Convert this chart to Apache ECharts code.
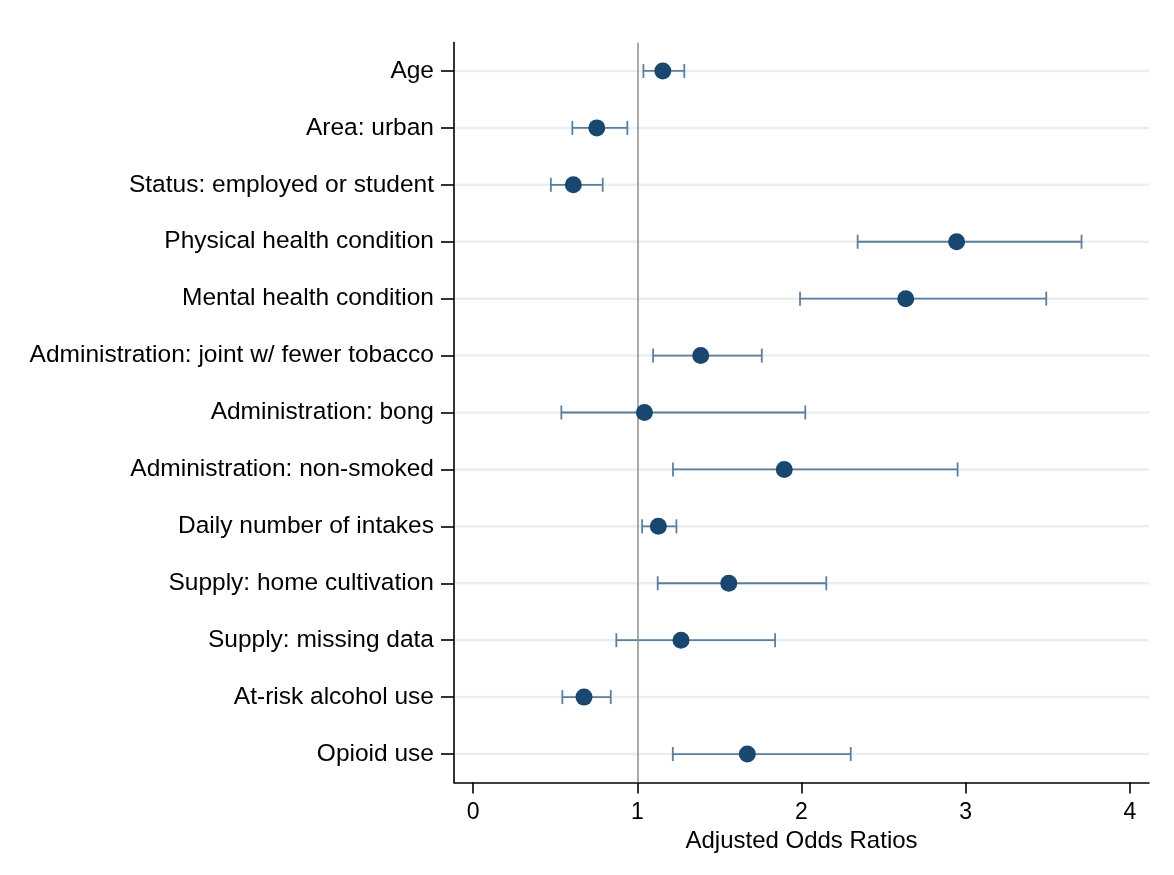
<!DOCTYPE html>
<html>
<head>
<meta charset="utf-8">
<script src="https://cdn.jsdelivr.net/npm/echarts@6/dist/echarts.min.js"></script>
<style>
  html, body { margin: 0; padding: 0; background: #ffffff; }
  #chart { width: 1174px; height: 875px; }
</style>
</head>
<body>
<div id="chart"></div>
<script>
const categories = [
  'Age',
  'Area: urban',
  'Status: employed or student',
  'Physical health condition',
  'Mental health condition',
  'Administration: joint w/ fewer tobacco',
  'Administration: bong',
  'Administration: non-smoked',
  'Daily number of intakes',
  'Supply: home cultivation',
  'Supply: missing data',
  'At-risk alcohol use',
  'Opioid use'
];
const estimates = [1.155, 0.753, 0.610, 2.945, 2.635, 1.386, 1.043, 1.895, 1.128, 1.557, 1.266, 0.675, 1.670];
const lowerCI   = [1.037, 0.604, 0.473, 2.342, 1.991, 1.096, 0.537, 1.217, 1.029, 1.124, 0.872, 0.543, 1.216];
const upperCI   = [1.286, 0.939, 0.789, 3.706, 3.491, 1.758, 2.023, 2.951, 1.238, 2.151, 1.839, 0.838, 2.300];
const xTicks = [0, 1, 2, 3, 4];
const refValue = 1;
const xMin = -0.117, xMax = 4.117;

const font = 'Liberation Sans, Arial, Helvetica, sans-serif';

const chart = echarts.init(document.getElementById('chart'), null, { renderer: 'canvas' });

const ciData = categories.map((c, i) => [lowerCI[i], upperCI[i], i]);
const gridData = categories.map((c, i) => [xMin, xMax, i]);
const pointData = categories.map((c, i) => [estimates[i], i]);

chart.setOption({
  backgroundColor: '#ffffff',
  animation: false,
  grid: { left: 454, right: 25, top: 42.5, bottom: 92.5, containLabel: false },
  xAxis: {
    type: 'value',
    min: xMin,
    max: xMax,
    name: 'Adjusted Odds Ratios',
    nameLocation: 'middle',
    nameGap: 44,
    nameTextStyle: { fontFamily: font, fontSize: 24, color: '#000' },
    axisLine: { show: true, onZero: false, lineStyle: { color: '#000', width: 1.6 } },
    axisTick: { show: true, customValues: xTicks, length: 11, lineStyle: { color: '#000', width: 1.6 } },
    axisLabel: { customValues: xTicks, margin: 19, fontFamily: font, fontSize: 23, color: '#000' },
    splitLine: { show: false }
  },
  yAxis: {
    type: 'category',
    data: categories,
    inverse: true,
    axisLine: { show: true, onZero: false, lineStyle: { color: '#000', width: 1.6 } },
    axisTick: { show: true, alignWithLabel: true, length: 13, lineStyle: { color: '#000', width: 1.6 } },
    axisLabel: { margin: 20, fontFamily: font, fontSize: 24.5, color: '#000' },
    splitLine: { show: false }
  },
  series: [
    {
      type: 'custom',
      name: 'gridlines',
      z: 1,
      silent: true,
      data: gridData,
      renderItem: function (params, api) {
        const a = api.coord([api.value(0), api.value(2)]);
        const b = api.coord([api.value(1), api.value(2)]);
        return {
          type: 'line',
          shape: { x1: a[0] + 1, y1: a[1], x2: b[0], y2: b[1] },
          style: { stroke: '#e8eff2', lineWidth: 2.5 }
        };
      }
    },
    {
      type: 'custom',
      name: 'CI',
      z: 3,
      silent: true,
      data: ciData,
      markLine: {
        silent: true,
        symbol: 'none',
        label: { show: false },
        lineStyle: { color: '#8e8e8e', width: 1.5, type: 'solid' },
        data: [{ xAxis: refValue }]
      },
      renderItem: function (params, api) {
        const lo = api.coord([api.value(0), api.value(2)]);
        const hi = api.coord([api.value(1), api.value(2)]);
        const h = 7;
        const st = { stroke: '#5d7f9c', lineWidth: 1.8 };
        return {
          type: 'group',
          children: [
            { type: 'line', shape: { x1: lo[0], y1: lo[1], x2: hi[0], y2: hi[1] }, style: st },
            { type: 'line', shape: { x1: lo[0], y1: lo[1] - h, x2: lo[0], y2: lo[1] + h }, style: st },
            { type: 'line', shape: { x1: hi[0], y1: hi[1] - h, x2: hi[0], y2: hi[1] + h }, style: st }
          ]
        };
      }
    },
    {
      type: 'scatter',
      name: 'Estimate',
      z: 5,
      symbol: 'circle',
      symbolSize: 17,
      itemStyle: { color: '#1a476f', opacity: 1 },
      data: pointData
    }
  ]
});
</script>
</body>
</html>
